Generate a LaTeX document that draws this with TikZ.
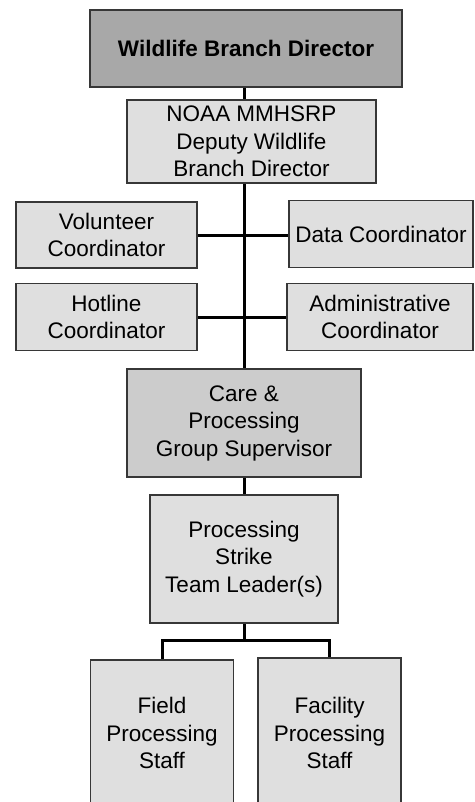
\documentclass[tikz,border=0pt]{standalone}
\usepackage{fontspec}
\setmainfont{Liberation Sans}
\usepackage{xcolor}
\usetikzlibrary{positioning,calc,backgrounds}
\definecolor{cTop}{RGB}{168,168,168}
\definecolor{cMid}{RGB}{204,204,204}
\definecolor{cLow}{RGB}{223,223,223}
\definecolor{cEdge}{RGB}{55,55,55}
\begin{document}
\begin{tikzpicture}[x=1pt,y=-1pt,
  box/.style={draw=cEdge,line width=1.3pt,fill=cLow,align=center,inner sep=2pt,
    font=\fontsize{22.5}{27.5}\selectfont},
  conn/.style={line width=3pt,black}]
  \useasboundingbox (0,0) rectangle (474,802);
  \node[box,fill=cTop,minimum width=312,minimum height=77,font=\fontsize{22.5}{27.5}\selectfont\bfseries] (wbd) at (246,48.5) {Wildlife Branch Director};
  \node[box,minimum width=249,minimum height=83] (dep) at (251.5,141.5) {NOAA MMHSRP\\Deputy Wildlife\\Branch Director};
  \node[box,minimum width=181,minimum height=66] (vol) at (106.5,235) {Volunteer\\Coordinator};
  \node[box,minimum width=184,minimum height=67] (data) at (381,234) {Data Coordinator};
  \node[box,minimum width=181,minimum height=67] (hot) at (106.5,317) {Hotline\\Coordinator};
  \node[box,minimum width=186,minimum height=67] (adm) at (380,317) {Administrative\\Coordinator};
  \node[box,fill=cMid,minimum width=234,minimum height=108] (care) at (244,423) {Care \&\\Processing\\Group Supervisor};
  \node[box,minimum width=188,minimum height=128] (strike) at (244,559) {Processing\\Strike\\Team Leader(s)};
  \node[box,minimum width=143,minimum height=146] (field) at (162,733) {Field\\Processing\\Staff};
  \node[box,minimum width=143,minimum height=150] (fac) at (329.5,733) {Facility\\Processing\\Staff};
  \begin{scope}[on background layer]
    \draw[conn] (wbd.south -| care.north) -- (care.north);
    \draw[conn] (vol.east) -- (vol.east -| data.west);
    \draw[conn] (hot.east) -- (hot.east -| adm.west);
    \draw[conn] (care.south) -- (strike.north);
    \draw[conn] (strike.south) -- ++(0,17) -| (field.north);
    \draw[conn] (strike.south) -- ++(0,17) -| (fac.north);
  \end{scope}
\end{tikzpicture}
\end{document}
